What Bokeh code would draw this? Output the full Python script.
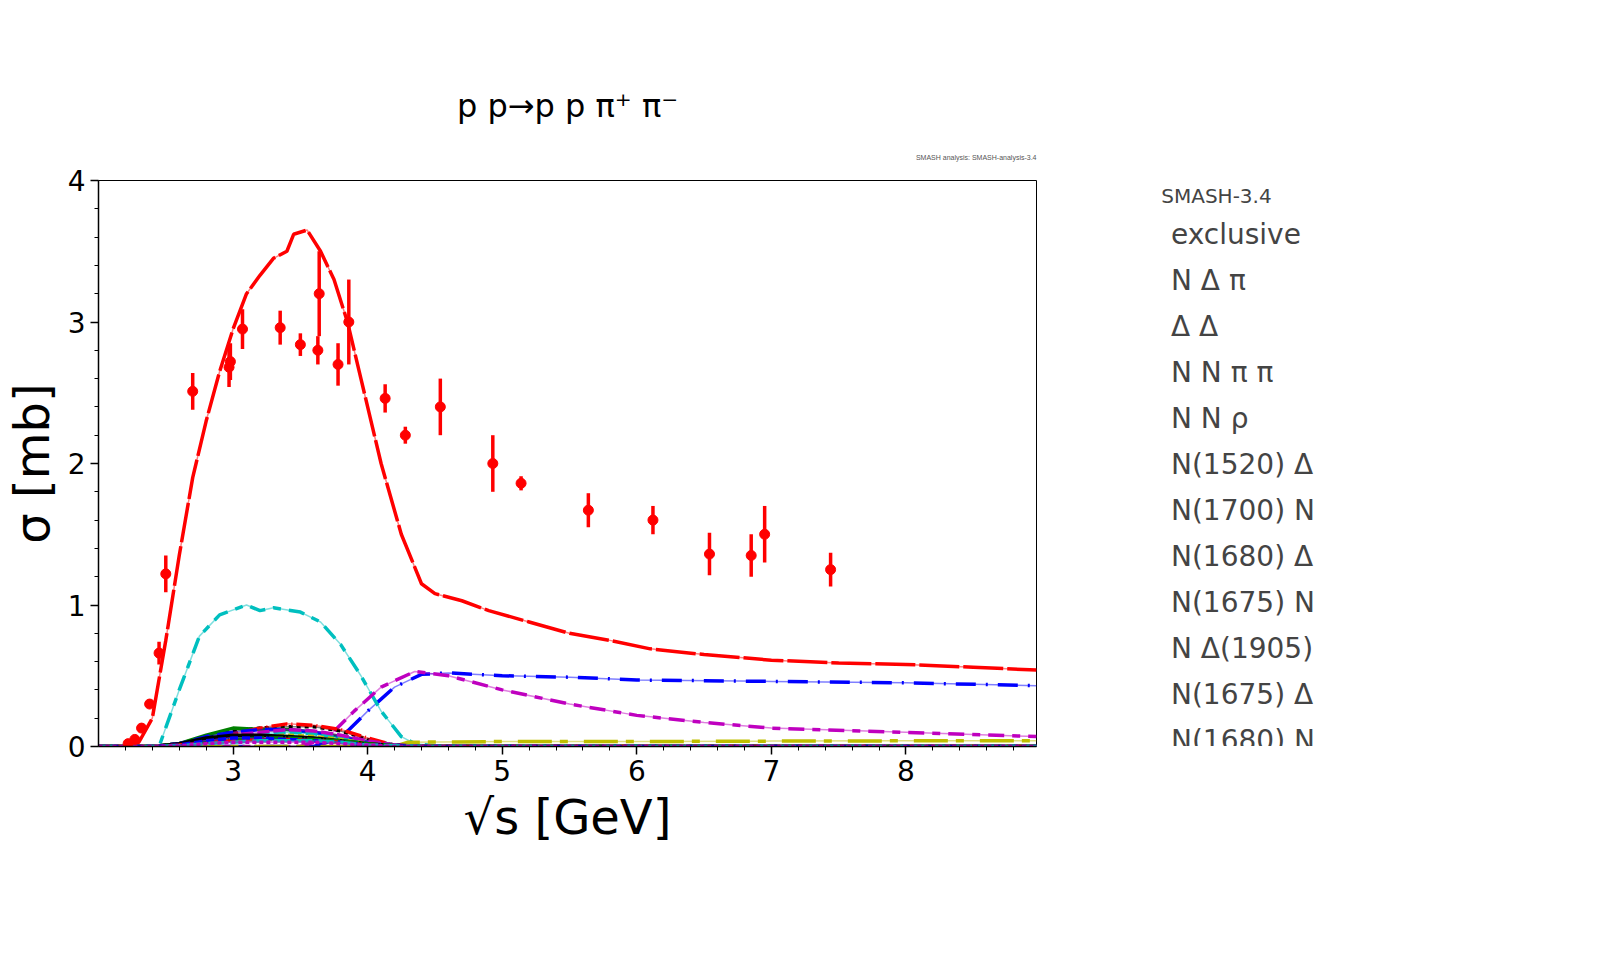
from bokeh.plotting import figure
from bokeh.models import Legend, LegendItem, Title, FixedTicker, Range1d
from bokeh.layouts import row
from bokeh.embed import file_html
from bokeh.resources import INLINE

# exclusive (red)
excl_x = [2.2,2.3,2.4,2.5,2.6,2.7,2.8,2.9,3.0,3.1,3.2,3.3,3.4,3.45,3.55,3.65,3.75,3.85,3.95,4.1,4.25,4.4,4.5,4.7,4.9,5.2,5.5,5.8,6.1,6.5,7.0,7.5,8.0,8.5,8.97]
excl_y = [0.0,0.03,0.2,0.75,1.35,1.9,2.3,2.65,2.95,3.2,3.33,3.45,3.5,3.62,3.65,3.5,3.3,3.0,2.6,2.0,1.5,1.15,1.08,1.03,0.96,0.88,0.8,0.75,0.69,0.65,0.61,0.59,0.58,0.56,0.54]
# N Delta pi (blue)
ndp_x = [2.0,3.6,3.8,4.0,4.2,4.4,4.6,5.0,5.5,6.0,7.0,8.0,8.97]
ndp_y = [0.0,0.0,0.06,0.25,0.42,0.51,0.52,0.5,0.49,0.47,0.46,0.45,0.43]
# Delta Delta (cyan)
dd_x = [2.0,2.45,2.6,2.75,2.9,3.1,3.2,3.3,3.5,3.65,3.8,3.95,4.1,4.25,4.35,4.5,8.97]
dd_y = [0.0,0.0,0.4,0.78,0.93,1.0,0.96,0.98,0.95,0.88,0.72,0.5,0.25,0.07,0.02,0.005,0.0]
# N N pi pi (magenta)
nnpp_x = [2.0,3.5,3.7,3.9,4.1,4.35,4.6,5.0,5.5,6.0,6.5,7.0,8.0,8.97]
nnpp_y = [0.0,0.0,0.06,0.25,0.42,0.53,0.5,0.4,0.3,0.22,0.17,0.13,0.1,0.07]
# N N rho (yellow)
nnr_x = [2.0,4.2,4.3,5.0,6.0,7.0,8.0,8.97]
nnr_y = [0.0,0.0,0.03,0.035,0.035,0.038,0.04,0.04]

# resonance channels on common grid
res_x = [2.0,2.4,2.6,2.8,3.0,3.2,3.4,3.6,3.8,4.0,4.2,4.4,8.97]
res_names = ["N(1520) Δ","N(1700) N","N(1680) Δ","N(1675) N","N Δ(1905)","N(1675) Δ",
             "N(1680) N","N(1520) N","N Δ(1930)","N Δ(1700)","N(1440) Δ","N(1875) N","N(1720) N"]
res_vals = [
    [0,0,0.02,0.07,0.11,0.13,0.14,0.14,0.11,0.05,0.01,0,0],
    [0,0,0.02,0.08,0.13,0.12,0.12,0.1,0.07,0.03,0.01,0,0],
    [0,0,0.01,0.05,0.09,0.13,0.16,0.15,0.12,0.06,0.01,0,0],
    [0,0,0.02,0.07,0.1,0.12,0.12,0.1,0.07,0.03,0.01,0,0],
    [0,0,0.01,0.04,0.07,0.09,0.1,0.09,0.06,0.03,0.01,0,0],
    [0,0,0.01,0.04,0.08,0.1,0.12,0.11,0.08,0.04,0.01,0,0],
    [0,0,0.01,0.03,0.05,0.07,0.08,0.07,0.05,0.02,0.005,0,0],
    [0,0,0.02,0.06,0.08,0.08,0.07,0.06,0.04,0.02,0.005,0,0],
    [0,0,0.01,0.03,0.05,0.06,0.06,0.05,0.04,0.02,0.005,0,0],
    [0,0,0.01,0.03,0.04,0.05,0.05,0.04,0.03,0.01,0.005,0,0],
    [0,0,0.01,0.04,0.06,0.06,0.05,0.04,0.03,0.01,0.005,0,0],
    [0,0,0.005,0.02,0.03,0.04,0.04,0.04,0.03,0.01,0.005,0,0],
    [0,0,0.005,0.02,0.03,0.03,0.03,0.03,0.02,0.01,0.0,0,0],
]
res_colors = ["black","green","red","blue","#00bfbf","#bf00bf","#bfbf00","black","green","red","blue","#00bfbf","#bf00bf"]
res_dash = ["4 4","solid","16 4 1 4","16 8","12 4","12 4","6 4","solid","14 2 1 2","12 6","8 4","16 6","4 3"]

# experimental data
exp_x = [2.22,2.27,2.32,2.38,2.45,2.5,2.7,2.97,2.98,3.07,3.35,3.5,3.63,3.64,3.78,3.86,4.13,4.28,4.54,4.93,5.14,5.64,6.12,6.54,6.85,6.95,7.44]
exp_y = [0.02,0.05,0.13,0.3,0.66,1.22,2.51,2.68,2.72,2.95,2.96,2.84,2.8,3.2,2.7,3.0,2.46,2.2,2.4,2.0,1.86,1.67,1.6,1.36,1.35,1.5,1.25]
exp_e = [0.0,0.0,0.0,0.0,0.08,0.13,0.13,0.14,0.13,0.14,0.12,0.08,0.1,0.3,0.15,0.3,0.1,0.06,0.2,0.2,0.05,0.12,0.1,0.15,0.15,0.2,0.12]

x_ticks = [3,4,5,6,7,8]
y_ticks = [0,1,2,3,4]

p = figure(width=1081, height=930, output_backend="svg", toolbar_location=None,
           x_range=Range1d(2.0, 8.97), y_range=Range1d(0, 4),
           min_border_left=87, min_border_right=45, min_border_top=180, min_border_bottom=184)
p.xgrid.visible = False
p.ygrid.visible = False
p.outline_line_color = "black"
p.title.text = "p p→p p π⁺ π⁻"
p.title.align = "center"
p.title.text_font_size = "32px"
p.title.text_font_style = "normal"
p.title.text_font = "DejaVu Sans"
p.title.text_color = "black"
p.title.offset = 0
p.title.standoff = 14
p.add_layout(Title(text="SMASH analysis: SMASH-analysis-3.4", align="right", text_font_size="7px",
                   text_font_style="normal", text_color="#555555", standoff=40), "above")

for ax in (p.xaxis[0], p.yaxis[0]):
    ax.major_label_text_font_size = "28px"
    ax.major_label_text_font = "DejaVu Sans"
    ax.major_label_text_color = "black"
    ax.axis_label_text_font_size = "48px"
    ax.axis_label_text_font = "DejaVu Sans"
    ax.axis_label_text_font_style = "normal"
    ax.axis_label_text_color = "black"
    ax.major_tick_out = 8
    ax.major_tick_in = 0
    ax.minor_tick_out = 4
    ax.minor_tick_in = 0
    ax.axis_line_width = 1.5
    ax.major_tick_line_width = 1.5
p.xaxis.ticker = FixedTicker(ticks=x_ticks, minor_ticks=[2.2,2.4,2.6,2.8]+[a/10 for a in range(30,90,2) if a % 10])
p.yaxis.ticker = FixedTicker(ticks=y_ticks, minor_ticks=[a/10 for a in range(0,40,2) if a % 10])
p.xaxis.axis_label = "√s [GeV]"
p.yaxis.axis_label = "σ [mb]"

# legend figure
lf = figure(width=470, height=930, output_backend="svg", toolbar_location=None,
            x_range=Range1d(0, 1), y_range=Range1d(0, 1),
            min_border=0, outline_line_color=None)
lf.axis.visible = False
lf.grid.visible = False

items = []
def curve(x, y, color, dash, name, width=3.5):
    p.line(x, y, line_color=color, line_width=1.5, line_alpha=0.5)
    p.line(x, y, line_color=color, line_width=width, line_dash=dash)
    r = lf.line([], [], line_color=color, line_width=width, line_dash=dash)
    items.append(LegendItem(label=name, renderers=[r]))

curve(excl_x, excl_y, "red", "40 4", "exclusive")
curve(ndp_x, ndp_y, "blue", "20 10 2 10", "N Δ π")
curve(dd_x, dd_y, "#00bfbf", "16 8 8 8", "Δ Δ")
curve(nnpp_x, nnpp_y, "#bf00bf", "16 8 8 8", "N N π π")
curve(nnr_x, nnr_y, "#bfbf00", "8 16 34 8", "N N ρ")
for n, v, c, d in zip(res_names, res_vals, res_colors, res_dash):
    curve(res_x, v, c, d, n)

p.segment(exp_x, [a - b for a, b in zip(exp_y, exp_e)], exp_x, [a + b for a, b in zip(exp_y, exp_e)],
          line_color="red", line_width=3.5)
p.scatter(exp_x, exp_y, size=10, color="red")
seg = lf.segment([], [], [], [], line_color="red", line_width=3.5)
sc = lf.scatter([], [], size=10, color="red")
items.append(LegendItem(label="experimental exclusive", renderers=[seg, sc]))

leg = Legend(items=items, location="top_left", title="            SMASH-3.4",
             title_text_font_size="20px", title_text_font="DejaVu Sans", title_text_font_style="normal",
             label_text_font_size="28px", label_text_font="DejaVu Sans",
             glyph_width=62, glyph_height=30, label_height=36, spacing=10,
             border_line_alpha=0, background_fill_alpha=0, padding=2, margin=2,
             label_standoff=24, title_standoff=8)
lf.add_layout(leg, "center")

layout = row(p, lf)
open("out.html", "w").write(file_html(layout, INLINE))
